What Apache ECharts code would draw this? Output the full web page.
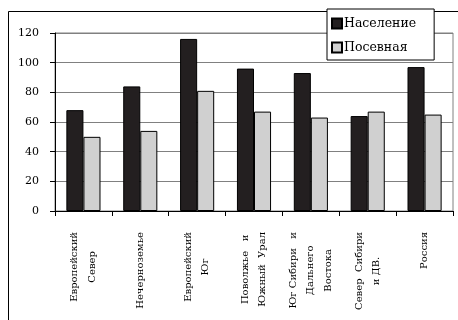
<!DOCTYPE html>
<html>
<head>
<meta charset="utf-8">
<script src="https://cdn.jsdelivr.net/npm/echarts@6/dist/echarts.min.js"></script>
<style>
  html, body { margin: 0; padding: 0; background: #fff; }
  #figure0 { width: 458px; height: 320px; }
</style>
</head>
<body>
<div id="figure0"></div>
<script>
var regions = ['Европейский\nСевер', 'Нечерноземье', 'Европейский\nЮг', 'Поволжье   и\nЮжный  Урал',
               'Юг Сибири   и\nДальнего\nВостока', 'Север  Сибири\nи ДВ.', 'Россия'];
var population = [68, 84, 116, 96, 93, 64, 97];
var sown = [50, 54, 81, 67, 63, 67, 65];
var yTicks = [0, 20, 40, 60, 80, 100, 120];

var serif = '"DejaVu Serif"';
var figure0 = echarts.init(document.getElementById('figure0'));
var option = {
    animation: false,
    textStyle: {fontFamily: serif},
    graphic: [{
        type: 'rect',
        left: 6, top: 9, z: 0,
        shape: {width: 500, height: 400},
        style: {fill: 'none', stroke: '#000', lineWidth: 1}
    }],
    legend: {
        orient: 'vertical',
        left: 327, top: 9,
        padding: [8, 18, 6, 4],
        itemWidth: 10, itemHeight: 10, itemGap: 11,
        backgroundColor: '#fff',
        borderColor: '#000', borderWidth: 1,
        icon: 'rect',
        textStyle: {fontFamily: serif, fontSize: 12.5, color: '#000', padding: [0, 0, 0, -3]},
        data: ['Население', 'Посевная']
    },
    grid: {left: 55, right: 5, top: 33, bottom: 109, show: true, borderColor: '#808080', borderWidth: 1},
    xAxis: {
        type: 'category',
        data: regions,
        axisLine: {lineStyle: {color: '#000', width: 1}},
        axisTick: {show: true, length: 5, lineStyle: {color: '#000'}},
        axisLabel: {
            interval: 0, rotate: 90, margin: 21,
            formatter: function (v) {
                return v.split('\n').map(function (s) { return '{c|' + s + '}'; }).join('\n');
            },
            rich: {c: {align: 'center', fontFamily: serif, fontSize: 10, lineHeight: 17.5, color: '#000'}}
        }
    },
    yAxis: {
        type: 'value',
        min: yTicks[0], max: yTicks[yTicks.length - 1], interval: 20,
        axisLine: {show: true, lineStyle: {color: '#000', width: 1}},
        axisTick: {show: true, length: 5, lineStyle: {color: '#000'}},
        axisLabel: {fontFamily: serif, fontSize: 11, color: '#000', margin: 16},
        splitLine: {lineStyle: {color: '#808080', width: 1}}
    },
    series: [{
        name: 'Население',
        type: 'bar',
        data: population,
        barGap: '0%',
        barCategoryGap: '40%',
        itemStyle: {color: '#231f20', borderColor: '#000', borderWidth: 1}
    }, {
        name: 'Посевная',
        type: 'bar',
        data: sown,
        itemStyle: {color: '#d0d0d0', borderColor: '#000', borderWidth: 1}
    }]
};
figure0.setOption(option);
</script>
</body>
</html>
